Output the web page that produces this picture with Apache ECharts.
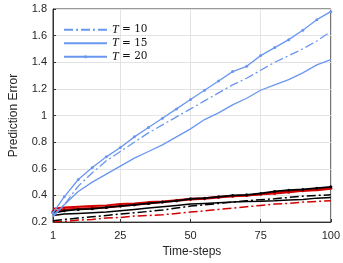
<!DOCTYPE html>
<html><head><meta charset="utf-8">
<script src="https://cdn.jsdelivr.net/npm/echarts@6/dist/echarts.min.js"></script>
<style>html,body{margin:0;padding:0;background:#fff}#c{width:343px;height:263px}</style>
</head><body><div id="c"></div>
<script>
const steps = [1,5,10,15,20,25,30,35,40,45,50,55,60,65,70,75,80,85,90,95,100];
const xTicks = [1,25,50,75,100];
const legendNames = ['T = 10','T = 15','T = 20'];
// blue
const blueT10 = [0.25,0.33,0.47,0.57,0.66,0.73,0.80,0.87,0.93,0.99,1.05,1.11,1.17,1.23,1.28,1.34,1.40,1.45,1.50,1.56,1.63];
const blueT15 = [0.24,0.33,0.43,0.50,0.56,0.62,0.68,0.73,0.78,0.84,0.90,0.97,1.02,1.08,1.13,1.19,1.23,1.27,1.32,1.38,1.42];
const blueT20 = [0.27,0.39,0.52,0.61,0.69,0.76,0.84,0.91,0.98,1.05,1.12,1.19,1.26,1.33,1.37,1.45,1.51,1.57,1.64,1.72,1.78];
// black
const blackT10 = [0.21,0.22,0.23,0.24,0.25,0.26,0.27,0.28,0.29,0.305,0.32,0.33,0.34,0.35,0.36,0.368,0.375,0.385,0.395,0.40,0.405];
const blackT15 = [0.25,0.26,0.265,0.27,0.275,0.285,0.295,0.305,0.315,0.325,0.335,0.34,0.345,0.35,0.355,0.356,0.36,0.365,0.37,0.38,0.385];
const blackT20 = [0.27,0.285,0.295,0.30,0.31,0.32,0.33,0.34,0.35,0.36,0.375,0.38,0.39,0.40,0.405,0.415,0.43,0.44,0.445,0.455,0.465];
// red
const redT10 = [0.20,0.205,0.215,0.22,0.23,0.235,0.245,0.25,0.255,0.265,0.275,0.285,0.295,0.305,0.315,0.325,0.335,0.34,0.35,0.355,0.36];
const redT15 = [0.30,0.31,0.315,0.32,0.325,0.335,0.34,0.35,0.355,0.365,0.375,0.38,0.39,0.395,0.40,0.41,0.42,0.43,0.435,0.44,0.45];
const redT20 = [0.28,0.295,0.30,0.305,0.31,0.32,0.33,0.34,0.35,0.36,0.37,0.375,0.385,0.395,0.40,0.41,0.415,0.425,0.435,0.445,0.455];

const BLUE = '#6a97f0', BLACK = '#000000', RED = '#d40000';
const DASHDOT = [9,3,2,3];
const pts = ys => steps.map((x,i)=>[x, ys[i]]);
function mk(name, ys, color, style, width, z){
  const marker = style === 'marker';
  return {
    name, type:'line', data: pts(ys), z: z,
    showSymbol: marker, symbol: marker ? 'circle' : 'none', symbolSize: marker ? 3 : 0,
    itemStyle:{color},
    lineStyle:{color, width, type: style === 'dashdot' ? DASHDOT : 'solid'},
    emphasis:{disabled:true}, animation:false
  };
}
const series = [
  mk('r10', redT10, RED, 'dashdot', 1.5, 2),
  mk('r15', redT15, RED, 'solid', 2, 2),
  mk('r20', redT20, RED, 'marker', 2, 2),
  mk('k10', blackT10, BLACK, 'dashdot', 1.5, 3),
  mk('k15', blackT15, BLACK, 'solid', 1.5, 3),
  mk('k20', blackT20, BLACK, 'marker', 1.8, 3),
  mk(legendNames[0], blueT10, BLUE, 'dashdot', 1.3, 4),
  mk(legendNames[1], blueT15, BLUE, 'solid', 1.3, 4),
  mk(legendNames[2], blueT20, BLUE, 'marker', 1.3, 4)
];
const chart = echarts.init(document.getElementById('c'), null, {renderer:'canvas'});
const F = 'Liberation Sans, Arial, sans-serif';
chart.setOption({
  animation:false,
  grid:{left:41, right:12, top:9, bottom:35, show:true, borderColor:'#333', borderWidth:1, backgroundColor:'transparent'},
  legend:{
    data: [
      {name: legendNames[0], itemStyle:{opacity:0}},
      {name: legendNames[1], itemStyle:{opacity:0}},
      {name: legendNames[2]}
    ],
    orient:'vertical', left:63, top:23, padding:0, itemWidth:43, itemHeight:4, itemGap:0,
    formatter: n => '{i|T} = ' + n.split('= ')[1],
    textStyle:{fontFamily:'DejaVu Serif, Liberation Serif, serif', fontSize:10.5, color:'#111', lineHeight:13.5,
      rich:{i:{fontStyle:'italic', fontFamily:'Liberation Serif, serif', fontSize:12, lineHeight:13.5}}}
  },
  xAxis:{
    type:'value', min:1, max:100,
    name:'Time-steps', nameLocation:'middle', nameGap:22,
    nameTextStyle:{fontFamily:F, fontSize:12, color:'#262626'},
    axisLine:{show:true, lineStyle:{color:'#333'}},
    axisTick:{show:true, inside:true, length:3, customValues:xTicks, lineStyle:{color:'#333'}},
    axisLabel:{customValues:xTicks, fontFamily:F, fontSize:11, color:'#262626', margin:8},
    splitLine:{show:true, lineStyle:{color:'#e3e3e3', width:1}}
  },
  yAxis:{
    type:'value', min:0.2, max:1.8, interval:0.2,
    name:'Prediction Error', nameLocation:'middle', nameGap:33,
    nameTextStyle:{fontFamily:F, fontSize:12, color:'#262626'},
    axisLine:{show:true, lineStyle:{color:'#333'}},
    axisTick:{show:true, inside:true, length:3, lineStyle:{color:'#333'}},
    axisLabel:{fontFamily:F, fontSize:11, color:'#262626', margin:6,
      formatter: v => (Math.round(v*10)/10).toString()},
    splitLine:{show:true, lineStyle:{color:'#e3e3e3', width:1}}
  },
  series
});
</script></body></html>
